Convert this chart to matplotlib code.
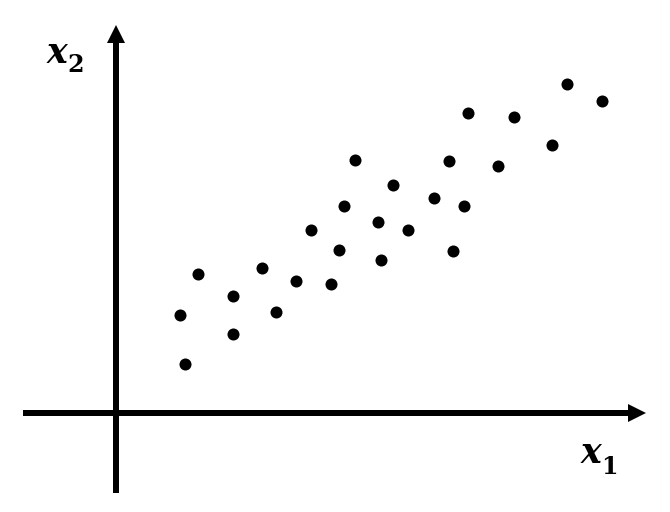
import matplotlib
matplotlib.use("Agg")
import matplotlib.pyplot as plt
from matplotlib.patches import FancyArrow

# data
x1 = [6.4, 6.9, 8.2, 11.7, 11.7, 14.6, 16.0, 18.0, 19.5, 21.5, 22.3, 22.8, 23.9,
      26.2, 26.5, 27.7, 29.2, 31.8, 33.3, 33.7, 34.8, 35.2, 38.2, 39.8, 43.6, 45.1, 48.6]
x2 = [9.8, 4.9, 13.9, 11.7, 7.9, 14.5, 10.1, 13.2, 18.3, 12.9, 16.3, 20.7, 25.3,
      19.1, 15.3, 22.8, 18.3, 21.5, 25.2, 16.2, 20.7, 30.0, 24.7, 29.6, 26.8, 32.9, 31.2]

label_base = ["x", "x"]
label_sub = ["1", "2"]

fig = plt.figure(figsize=(6.7, 5.12), dpi=100)
ax = fig.add_axes([0, 0, 1, 1])
ax.set_xlim(-11.6, 55.4)
ax.set_ylim(-9.9, 41.3)
ax.axis('off')

ax.add_patch(FancyArrow(-9.3, 0, 62.3, 0, width=0.6, head_width=1.8, head_length=1.8,
                        length_includes_head=True, color='black', lw=0))
ax.add_patch(FancyArrow(0, -8.0, 0, 46.8, width=0.6, head_width=1.8, head_length=1.8,
                        length_includes_head=True, color='black', lw=0))

ax.scatter(x1, x2, s=75, color='black', zorder=3, linewidths=0)

base_kw = dict(family='DejaVu Serif', style='italic', weight='bold', fontsize=25,
               ha='left', va='baseline')
sub_kw = dict(family='DejaVu Serif', weight='bold', fontsize=17,
              ha='left', va='baseline')

# x1 label
ax.text(46.5, -5.0, label_base[0], **base_kw)
ax.text(48.5, -6.1, label_sub[0], **sub_kw)
# x2 label
ax.text(-6.9, 35.0, label_base[1], **base_kw)
ax.text(-4.9, 34.1, label_sub[1], **sub_kw)

fig.savefig("out.png", dpi=100)
